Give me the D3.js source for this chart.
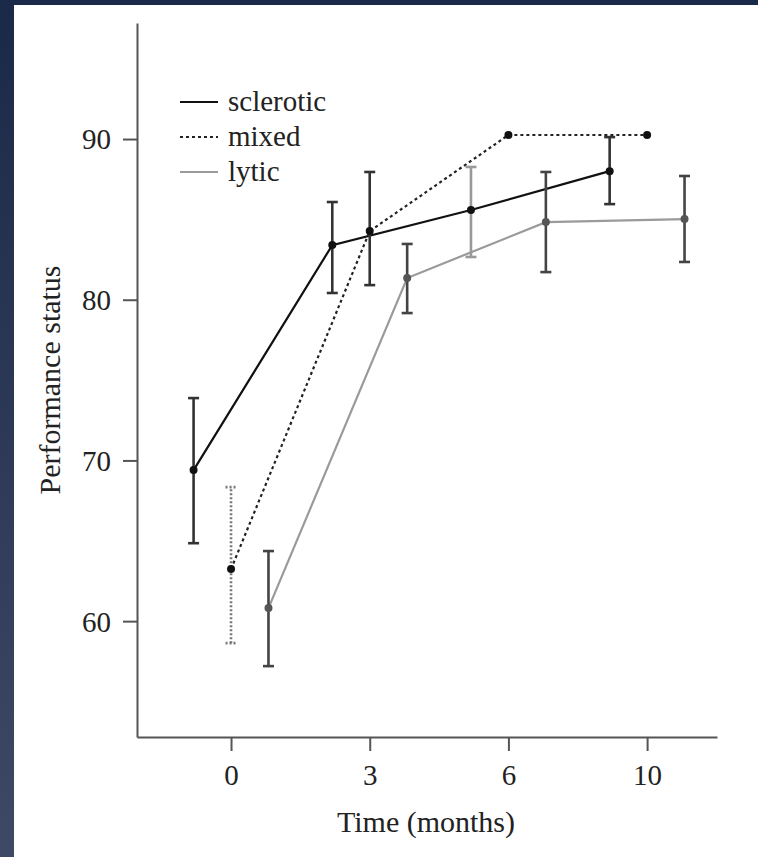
<!DOCTYPE html>
<html lang="en">
<head>
<meta charset="UTF-8">
<title>Performance status</title>
<script src="https://d3js.org/d3.v7.min.js"></script>
<style>
  body { margin: 0; background: #fff; }
  svg { display: block; }
  .axis text { font-family: "Liberation Serif", "Times New Roman", serif; font-size: 29px; fill: #222; }
  .axis path, .axis line { stroke: #555; stroke-width: 2; }
  .title { font-family: "Liberation Serif", "Times New Roman", serif; font-size: 30px; fill: #222; }
  .legend text { font-family: "Liberation Serif", "Times New Roman", serif; font-size: 29px; fill: #222; }
</style>
</head>
<body>
<svg id="chart" width="758" height="857"></svg>
<script>
// data
const categories = ['0', '3', '6', '10'];
const yTicks = [60, 70, 80, 90];

const scleroticMean = [69.4, 83.4, 85.58, 88.0];
const scleroticLow  = [64.85, 80.42, 82.66, 85.95];
const scleroticHigh = [73.88, 86.08, 88.26, 90.12];

const mixedMean = [63.24, 84.27, 90.25, 90.25];
const mixedLow  = [58.63, 80.91, null, null];
const mixedHigh = [68.34, 87.95, null, null];

const lyticMean = [60.81, 81.35, 84.83, 85.02];
const lyticLow  = [57.2, 79.17, 81.72, 82.35];
const lyticHigh = [64.36, 83.47, 87.95, 87.7];

const width = 758, height = 857;
const svg = d3.select('#chart');

// slide background (dark frame at top/left)
const defs = svg.append('defs');
const grad = defs.append('linearGradient').attr('id', 'frame')
  .attr('x1', 0).attr('y1', 0).attr('x2', 0).attr('y2', 1);
grad.append('stop').attr('offset', '0%').attr('stop-color', '#1b2948');
grad.append('stop').attr('offset', '100%').attr('stop-color', '#3e4965');
svg.append('rect').attr('width', width).attr('height', height).attr('fill', 'url(#frame)');
svg.append('rect').attr('x', 0).attr('y', 0).attr('width', width).attr('height', 5).attr('fill', '#1b2948');
svg.append('rect').attr('x', 14).attr('y', 5).attr('width', width - 14).attr('height', height - 5).attr('fill', '#fff');

// scales
const x = d3.scaleLinear().domain([-0.678, 3.504]).range([137, 717]);
const y = d3.scaleLinear().domain([52.79, 97.22]).range([737, 23]);

// axes
const yAxis = svg.append('g').attr('class', 'axis')
  .attr('transform', 'translate(137,0)')
  .call(d3.axisLeft(y).tickValues(yTicks).tickSize(14).tickSizeOuter(0).tickPadding(12));
yAxis.selectAll('text').attr('dy', '0.34em');

const xAxis = svg.append('g').attr('class', 'axis')
  .attr('transform', 'translate(0,737)')
  .call(d3.axisBottom(x).tickValues([0, 1, 2, 3]).tickFormat(i => categories[i])
    .tickSize(14).tickSizeOuter(0).tickPadding(13));

svg.append('text').attr('class', 'title')
  .attr('x', 426).attr('y', 832).attr('text-anchor', 'middle')
  .text('Time (months)');
svg.append('text').attr('class', 'title')
  .attr('transform', 'translate(60,380) rotate(-90)')
  .attr('text-anchor', 'middle')
  .text('Performance status');

// series
const series = [
  { name: 'sclerotic', mean: scleroticMean, low: scleroticLow, high: scleroticHigh,
    offset: -0.27, line: '#111', dash: null, point: '#111', bar: '#333' },
  { name: 'mixed', mean: mixedMean, low: mixedLow, high: mixedHigh,
    offset: 0, line: '#222', dash: '3,3', point: '#111', bar: '#333' },
  { name: 'lytic', mean: lyticMean, low: lyticLow, high: lyticHigh,
    offset: 0.27, line: '#9a9a9a', dash: null, point: '#555', bar: '#444' }
];

const line = d3.line().x(d => d.x).y(d => d.y);

series.forEach(s => {
  const pts = s.mean.map((v, i) => ({ x: x(i + s.offset), y: y(v) }));
  svg.append('path')
    .attr('d', line(pts))
    .attr('fill', 'none')
    .attr('stroke', s.line)
    .attr('stroke-width', 2.2)
    .attr('stroke-dasharray', s.dash);
});

series.forEach(s => {
  const g = svg.append('g');
  s.mean.forEach((v, i) => {
    if (s.low[i] == null) return;
    const cx = x(i + s.offset);
    // in the figure the first mixed bar is dotted and the sclerotic one at 6 months is light grey
    const dotted = s.name === 'mixed' && i === 0;
    const light = s.name === 'sclerotic' && i === 2;
    const col = dotted ? '#777' : (light ? '#999' : s.bar);
    const eb = g.append('g').attr('stroke', col).attr('stroke-width', 2.6)
      .attr('stroke-dasharray', dotted ? '2,2' : null);
    eb.append('line').attr('x1', cx).attr('x2', cx).attr('y1', y(s.low[i])).attr('y2', y(s.high[i]));
    eb.append('line').attr('x1', cx - 5.5).attr('x2', cx + 5.5).attr('y1', y(s.low[i])).attr('y2', y(s.low[i]))
      .attr('stroke-dasharray', null);
    eb.append('line').attr('x1', cx - 5.5).attr('x2', cx + 5.5).attr('y1', y(s.high[i])).attr('y2', y(s.high[i]))
      .attr('stroke-dasharray', null);
  });
  g.selectAll('circle').data(s.mean).enter().append('circle')
    .attr('cx', (d, i) => x(i + s.offset))
    .attr('cy', d => y(d))
    .attr('r', 4)
    .attr('fill', s.point);
});

// legend
const legend = svg.append('g').attr('class', 'legend');
series.forEach((s, k) => {
  const ly = 102 + k * 35;
  legend.append('line')
    .attr('x1', 180).attr('x2', 218).attr('y1', ly).attr('y2', ly)
    .attr('stroke', s.line).attr('stroke-width', 2.2)
    .attr('stroke-dasharray', s.dash);
  legend.append('text')
    .attr('x', 228).attr('y', ly).attr('dy', '0.3em')
    .text(s.name);
});
</script>
</body>
</html>
